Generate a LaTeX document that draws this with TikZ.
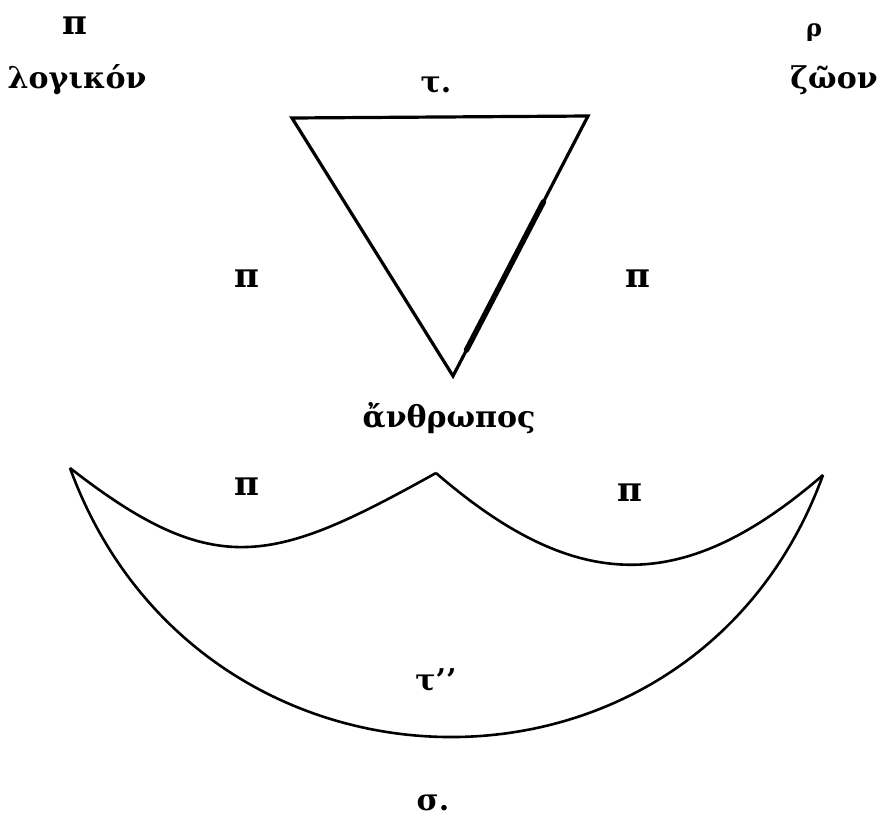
\documentclass[tikz,border=0pt]{standalone}
\usepackage{fontspec}
\usetikzlibrary{calc}
\setmainfont{DejaVu Serif}
\begin{document}
\begin{tikzpicture}[x=1pt,y=-1pt,
  lbl/.style={font=\fontsize{30}{36}\selectfont\bfseries, inner sep=0pt},
  pilbl/.style={font=\fontsize{34}{40}\selectfont\bfseries, inner sep=0pt},
  edge/.style={line width=3.2pt, line join=miter},
  arcline/.style={line width=2.6pt}]
\useasboundingbox (0,0) rectangle (877,820);
% triangle
\coordinate (tl) at (292,118);
\coordinate (tr) at (588,116);
\coordinate (tb) at (453,376);
\draw[edge] (tl) -- (tr) -- (tb) -- cycle;
\draw[line width=5.5pt, line cap=round] ($(tr)!0.33!(tb)$) -- ($(tr)!0.9!(tb)$);
% lower figure
\coordinate (L) at (70,468);
\coordinate (C) at (436,473);
\coordinate (R) at (823,475);
\draw[arcline] (L) .. controls (216,582) and (274,563) .. (C);
\draw[arcline] (C) .. controls (576,594) and (683,596) .. (R);
\draw[arcline] (L) .. controls (199,822) and (694,829) .. (R);
% labels
\node[pilbl] (p1) at (75,26) {π};
\node[lbl, anchor=base] (logikon) at (77,88) {λογικόν};
\node[lbl, font=\fontsize{24}{28}\selectfont\bfseries] (rho) at (814,33) {ρ};
\node[lbl, anchor=base] (zoon) at (834,88) {ζῶον};
\node[lbl, anchor=base] (tau1) at (436,92) {τ.};
\node[pilbl] (p2) at (247,279) {π};
\node[pilbl] (p3) at (638,279) {π};
\node[lbl, anchor=base] (anthropos) at (449,427) {ἄνθρωπος};
\node[pilbl] (p4) at (247,487) {π};
\node[pilbl] (p5) at (630,493) {π};
\node[lbl, anchor=base] (tau2) at (436,690) {τ'{}'};
\node[lbl, anchor=base] (sigma) at (433,810) {σ.};
\end{tikzpicture}
\end{document}
